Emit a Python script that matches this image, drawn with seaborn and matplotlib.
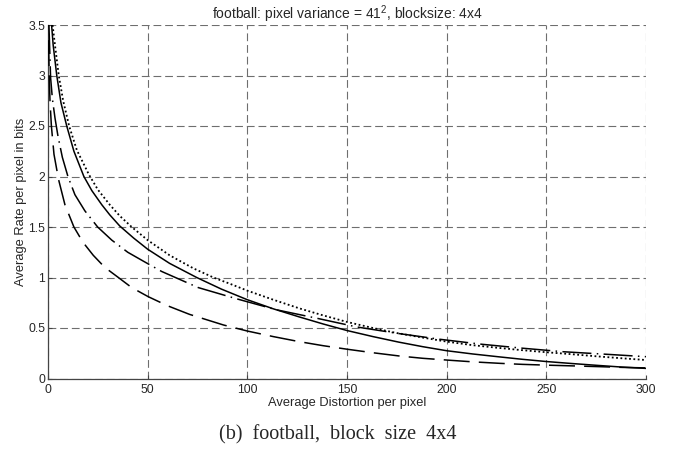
import matplotlib
matplotlib.use("Agg")
import matplotlib.pyplot as plt
import seaborn as sns
import pandas as pd

# ---- data ----
solid_d = [1.8, 2.6, 4.4, 6.5, 9.4, 13, 18, 22, 27, 31, 36, 43, 50, 61, 74.6, 87, 100, 113, 126, 138,
           150, 163, 176, 188, 200, 213, 226, 238, 250, 263, 277, 288, 300]
solid_r = [3.5, 3.3, 3.0, 2.73, 2.5, 2.25, 2.0, 1.86, 1.72, 1.62, 1.51, 1.39, 1.28, 1.14, 1.0, 0.885, 0.78,
           0.69, 0.61, 0.54, 0.475, 0.415, 0.36, 0.315, 0.275, 0.243, 0.215, 0.19, 0.168, 0.148, 0.128, 0.113, 0.10]

dotted_d = [2.3, 3.5, 5.4, 7.6, 10.6, 14.5, 20.5, 25, 31, 36, 42, 50, 61, 73, 83, 91, 100, 113, 126, 138,
            150, 163, 175, 188, 200, 213, 225, 237, 250, 263, 275, 288, 300]
dotted_r = [3.5, 3.3, 3.0, 2.75, 2.5, 2.26, 2.02, 1.87, 1.72, 1.61, 1.5, 1.37, 1.22, 1.09, 1.0, 0.94, 0.87,
            0.78, 0.695, 0.625, 0.56, 0.5, 0.45, 0.405, 0.365, 0.33, 0.305, 0.282, 0.26, 0.24, 0.22, 0.2, 0.183]

dashdot_d = [0.47, 1.3, 2.2, 3.5, 5, 7.2, 10, 13.5, 18.5, 24.9, 32, 40, 48, 57, 75.4, 95, 114.7, 135, 155,
             176, 196.7, 217.6, 238, 258.5, 280, 300]
dashdot_r = [3.5, 2.98, 2.77, 2.58, 2.4, 2.19, 2.0, 1.82, 1.66, 1.50, 1.37, 1.25, 1.16, 1.06, 0.90, 0.787,
             0.68, 0.596, 0.51, 0.445, 0.388, 0.339, 0.30, 0.265, 0.24, 0.216]

dashed_d = [0.3, 0.6, 1.0, 1.7, 3, 5.3, 8.5, 13, 17.5, 22.7, 28.5, 35.3, 42, 50.3, 60, 71, 88, 100, 113,
            126, 138, 150, 163, 176.6, 188, 200.5, 213, 226.8, 238, 250.5, 263, 277, 288, 300]
dashed_r = [3.35, 3.0, 2.75, 2.5, 2.22, 1.97, 1.72, 1.5, 1.35, 1.22, 1.1, 1.0, 0.9, 0.81, 0.72, 0.635, 0.53,
            0.47, 0.415, 0.365, 0.325, 0.29, 0.255, 0.222, 0.2, 0.182, 0.165, 0.15, 0.14, 0.132, 0.125,
            0.117, 0.11, 0.105]

x_ticks = [0, 50, 100, 150, 200, 250, 300]
y_ticks = [0, 0.5, 1, 1.5, 2, 2.5, 3, 3.5]
y_tick_labels = ["0", "0.5", "1", "1.5", "2", "2.5", "3", "3.5"]

title = "football: pixel variance = 41$^{2}$, blocksize: 4x4"
xlabel = "Average Distortion per pixel"
ylabel = "Average Rate per pixel in bits"
caption = "(b)  football,  block  size  4x4"

sns.set_theme(style="white")
plt.rcParams["font.family"] = ["Liberation Sans", "DejaVu Sans"]
plt.rcParams["mathtext.fontset"] = "custom"
plt.rcParams["mathtext.rm"] = "Liberation Sans"
plt.rcParams["mathtext.default"] = "regular"

fig = plt.figure(figsize=(6.74, 4.54), dpi=100)
ax = fig.add_axes([48 / 674, 1 - 378.5 / 454, (646 - 48) / 674, (378.5 - 25) / 454])

series = [
    (solid_d, solid_r, "-", 1.1),
    (dotted_d, dotted_r, (0, (1, 1.4)), 1.3),
    (dashdot_d, dashdot_r, (0, (19, 3.5, 1, 3.5)), 1.1),
    (dashed_d, dashed_r, (0, (17, 6)), 1.1),
]
for d, r, ls, lw in series:
    df = pd.DataFrame({"D": d, "R": r})
    sns.lineplot(data=df, x="D", y="R", ax=ax, color="black", linestyle=ls,
                 linewidth=lw, estimator=None, sort=False, zorder=3)

ax.set_xlim(0, 300)
ax.set_ylim(0, 3.5)
ax.set_xticks(x_ticks)
ax.set_xticklabels([str(t) for t in x_ticks])
ax.set_yticks(y_ticks)
ax.set_yticklabels(y_tick_labels)
ax.grid(True, color="#6e6e6e", linestyle=(0, (7, 3.5)), linewidth=0.8)
ax.set_axisbelow(True)
for s in ["top", "right"]:
    ax.spines[s].set_visible(False)
for s in ["left", "bottom"]:
    ax.spines[s].set_color("#444444")
    ax.spines[s].set_linewidth(0.9)
ax.tick_params(direction="in", length=3, width=0.8, color="#444444",
               labelsize=8.8, pad=2, bottom=True, left=True)
ax.tick_params(axis="x", pad=4)

ax.set_xlabel(xlabel, fontsize=9.3, labelpad=1)
ax.set_ylabel(ylabel, fontsize=9.3, labelpad=1)
ax.set_title(title, fontsize=10, pad=4)

fig.text(0.5 * (218 + 458) / 674, 1 - 435 / 454, caption, ha="center", va="center",
         fontsize=14.5, family=["Liberation Serif", "DejaVu Serif"])

fig.savefig("out.png", dpi=100)
